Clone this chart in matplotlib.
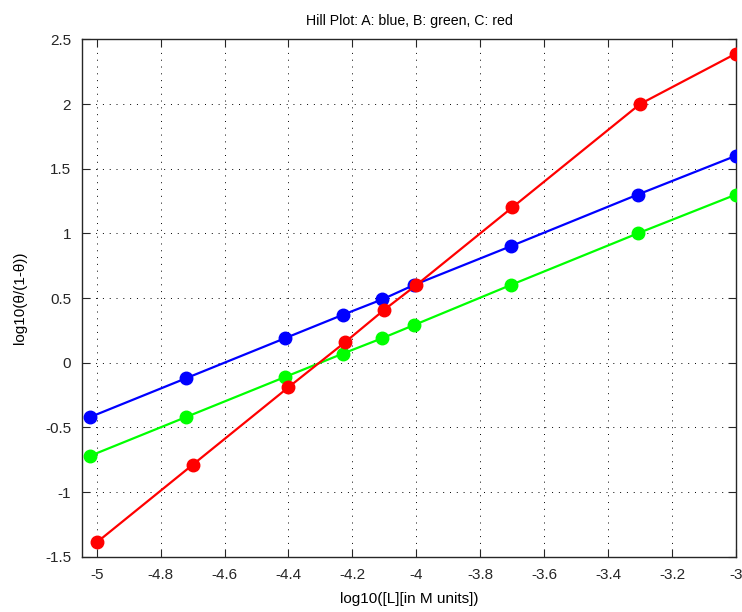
import matplotlib
matplotlib.use('Agg')
import matplotlib.pyplot as plt

# log10 of ligand concentration for each curve
x_a = [-5.02, -4.72, -4.41, -4.23, -4.106, -4.008, -3.705, -3.307, -3.0]
x_b = [-5.02, -4.72, -4.41, -4.23, -4.106, -4.008, -3.705, -3.307, -3.0]
x_c = [-5.0, -4.70, -4.40, -4.222, -4.10, -4.0, -3.70, -3.30, -3.0]

# log10(theta/(1-theta))
y_a = [-0.42, -0.12, 0.19, 0.37, 0.49, 0.60, 0.90, 1.30, 1.60]
y_b = [-0.72, -0.42, -0.11, 0.07, 0.19, 0.29, 0.60, 1.00, 1.30]
y_c = [-1.39, -0.79, -0.19, 0.16, 0.41, 0.60, 1.20, 2.00, 2.39]

x_ticks = [-5, -4.8, -4.6, -4.4, -4.2, -4, -3.8, -3.6, -3.4, -3.2, -3]
y_ticks = [-1.5, -1, -0.5, 0, 0.5, 1, 1.5, 2, 2.5]

plt.rcParams['font.family'] = ['Liberation Sans', 'DejaVu Sans']
plt.rcParams['axes.unicode_minus'] = False

fig = plt.figure(figsize=(7.42, 6.12), dpi=100)
ax = fig.add_axes([0.1109, 0.0904, 0.881, 0.8453])

for xs, ys, col in [(x_a, y_a, '#0000ff'), (x_b, y_b, '#00ff00'), (x_c, y_c, '#ff0000')]:
    ax.plot(xs, ys, '-o', color=col, lw=1.6, markersize=9, zorder=3)

ax.set_xlim(-5.045, -3)
ax.set_ylim(-1.5, 2.5)
ax.set_xticks(x_ticks)
ax.set_xticklabels(['%g' % v for v in x_ticks])
ax.set_yticks(y_ticks)
ax.set_yticklabels(['%g' % v for v in y_ticks])

ax.grid(True, color='black', lw=0.7, linestyle=(0, (1, 6)))
ax.tick_params(direction='in', length=6, width=0.8, top=True, right=True,
               labelsize=11, colors='#262626', pad=8)
for s in ax.spines.values():
    s.set_color('#262626')
    s.set_linewidth(1.0)

ax.set_title('Hill Plot: A: blue, B: green, C: red', fontsize=10.2, pad=10)
ax.set_xlabel('log10([L][in M units])', fontsize=11, labelpad=7.5)
ax.set_ylabel('log10(θ/(1-θ))', fontsize=11, labelpad=13)

fig.savefig('out.png', dpi=100)
